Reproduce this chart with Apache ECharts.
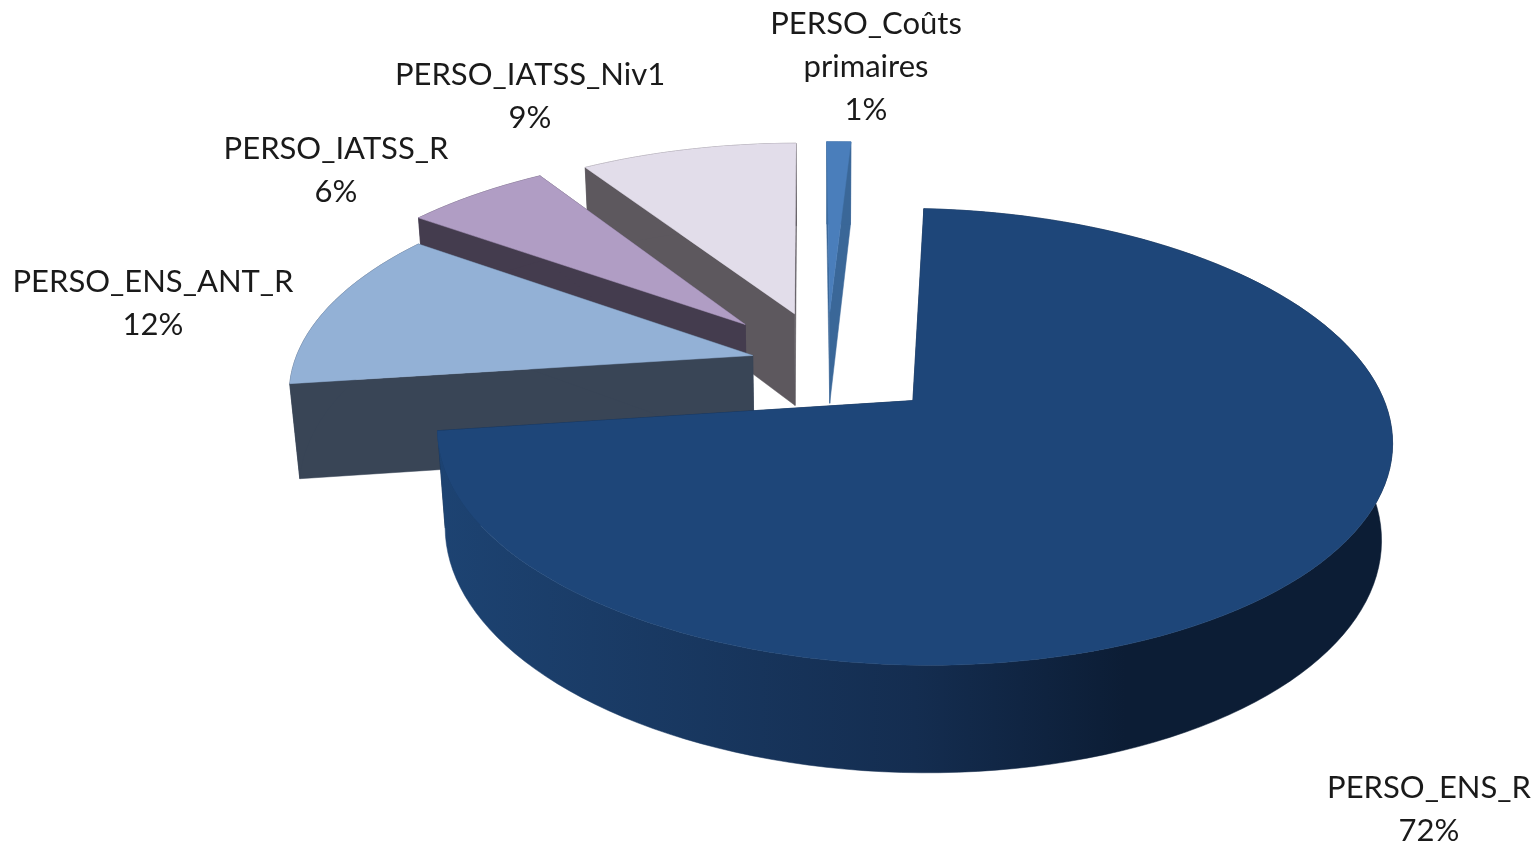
<!DOCTYPE html>
<html>
<head>
<meta charset="utf-8">
<style>
  html, body { margin: 0; padding: 0; background: #fff; }
  #main { width: 1537px; height: 844px; }
</style>
</head>
<body>
<div id="main"></div>
<script src="https://cdn.jsdelivr.net/npm/echarts@6/dist/echarts.min.js"></script>
<script>
const categories = ['PERSO_ENS_R', 'PERSO_ENS_ANT_R', 'PERSO_IATSS_R', 'PERSO_IATSS_Niv1', 'PERSO_Coûts\nprimaires'];
const shares = [72, 12, 6, 9, 1];

const topColors = ['#1E4679', '#93B1D6', '#B09DC4', '#E2DDEA', '#4A7EBB'];
const wallColors = ['#0F2442', '#394556', '#443C4E', '#5D585E', '#3A6798'];

const chart = echarts.init(document.getElementById('main'));

// simple perspective camera
const startAngle = 3.2;
const tilt = 27.4 * Math.PI / 180;
const sinT = Math.sin(tilt), cosT = Math.cos(tilt);
const camDist = 2640;
const radius = 459;
const depth = 108;
const centerX = 827, centerY = 364;
const explode = [114, 77, 122, 118, 118];
const labelAt = [[1429, 809], [153, 303], [336, 170], [530, 96], [866, 67]];

function project(X, Y, Z) {
  const w = Y * cosT + Z * sinT;
  const k = camDist / (camDist - w);
  return [centerX + X * k, centerY + (Y * sinT - Z * cosT) * k];
}

const total = shares.reduce((a, b) => a + b, 0);

function renderSlice(params, api) {
  const i = params.dataIndex;
  const before = shares.slice(0, i).reduce((a, b) => a + b, 0);
  const a0 = startAngle + before / total * 360;
  const a1 = a0 + api.value(0) / total * 360;
  const mid = (a0 + a1) / 2 * Math.PI / 180;
  const ox = Math.sin(mid) * explode[i];
  const oy = -Math.cos(mid) * explode[i];

  const arc = z => {
    const pts = [];
    const n = Math.ceil((a1 - a0) / 2);
    for (let j = 0; j <= n; j++) {
      const a = (a0 + (a1 - a0) * j / n) * Math.PI / 180;
      pts.push(project(ox + radius * Math.sin(a), oy - radius * Math.cos(a), z));
    }
    return pts;
  };
  const top = arc(0), bottom = arc(-depth);
  const apexTop = project(ox, oy, 0), apexBottom = project(ox, oy, -depth);
  const z = 10 - i;  // back slices are painted first, the big one last

  const poly = (points, fill, z2) => ({
    type: 'polygon',
    z2: z * 10 + z2,
    shape: { points },
    style: { fill, stroke: fill, lineWidth: 0.5 }
  });

  // the big slice has its outside wall shaded, the others are flat
  const outerFill = i === 0
    ? new echarts.graphic.LinearGradient(0, 0, 1, 0, [
        { offset: 0, color: '#1D4372' },
        { offset: 0.5, color: '#142D50' },
        { offset: 0.72, color: '#0C1D35' },
        { offset: 1, color: '#0C1D35' }
      ])
    : wallColors[i];

  return {
    type: 'group',
    children: [
      poly([apexTop, top[0], bottom[0], apexBottom], wallColors[i], 0),
      poly([apexTop, top[top.length - 1], bottom[bottom.length - 1], apexBottom], wallColors[i], 1),
      poly(top.concat(bottom.slice().reverse()), outerFill, 2),
      poly([apexTop].concat(top), topColors[i], 3),
      {
        type: 'text',
        z2: 200,
        x: labelAt[i][0],
        y: labelAt[i][1],
        style: {
          text: categories[i] + '\n' + api.value(0) + '%',
          fill: '#1a1a1a',
          font: '31px Lato',
          lineHeight: 43,
          align: 'center',
          verticalAlign: 'middle'
        }
      }
    ]
  };
}

chart.setOption({
  animation: false,
  series: [{
    type: 'custom',
    coordinateSystem: 'none',
    clip: false,
    silent: true,
    renderItem: renderSlice,
    data: shares.map(v => [v])
  }]
});
</script>
</body>
</html>
